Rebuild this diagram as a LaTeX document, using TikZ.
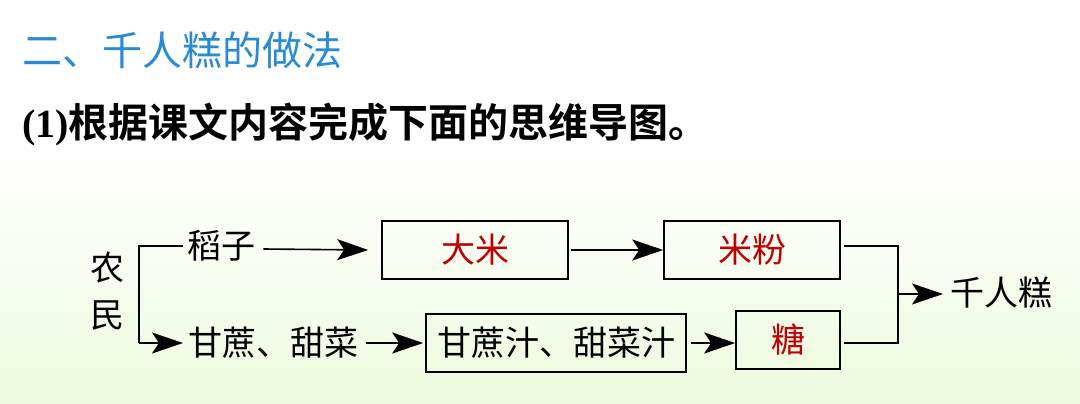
\documentclass[tikz,border=0pt]{standalone}
\usepackage{fontspec}
\setmainfont{Liberation Serif}
\newfontfamily\cjk{Noto Sans CJK SC}
\newfontfamily\cjkb{Noto Sans CJK SC Bold}
\usetikzlibrary{arrows.meta}
\definecolor{titleblue}{HTML}{2A8AD2}
\definecolor{answerred}{HTML}{C00000}
\definecolor{bggreen}{HTML}{EDFADD}
\tikzset{
  lbl/.style={inner sep=0pt, font=\cjk\fontsize{34}{34}\selectfont},
  boxn/.style={draw=black, line width=1.6pt, inner sep=0pt, font=\cjk\fontsize{34}{34}\selectfont},
  ans/.style={text=answerred},
  conn/.style={line width=1.6pt, -{Stealth[length=31pt,width=21pt,inset=7pt]}},
  plain/.style={line width=1.6pt}
}
\begin{document}
\begin{tikzpicture}[x=1pt,y=-1pt]
\useasboundingbox (0,0) rectangle (1080,404);
\fill[white] (0,0) rectangle (1080,150);
\shade[top color=white, bottom color=bggreen] (0,150) rectangle (1080,404);
% titles
\node[anchor=west, inner sep=0pt, text=titleblue, font=\cjk\fontsize{40}{40}\selectfont] (t1) at (22,50) {二、千人糕的做法};
\node[anchor=west, inner sep=0pt, font=\fontsize{40}{40}\selectfont] (t2) at (22,125) {\textbf{(1)}{\cjkb 根据课文内容完成下面的思维导图。}};
% left
\node[lbl] (nong) at (107,268) {农};
\node[lbl] (min) at (107,316) {民};
\coordinate (bt) at (139,246);
\coordinate (bb) at (139,343);
\node[lbl, anchor=west] (daozi) at (187,246) {稻子};
\node[lbl, anchor=west] (ganzhe) at (188,343) {甘蔗、甜菜};
\draw[plain] (daozi.west) ++(-4,0) -- (bt) -- (bb);
\draw[conn] (bb) -- ([xshift=-5pt]ganzhe.west);
% boxes
\node[boxn, ans, minimum width=186pt, minimum height=58pt] (dami) at (475,250) {大米};
\node[boxn, ans, minimum width=176pt, minimum height=58pt] (mifen) at (752,250) {米粉};
\node[boxn, minimum width=260pt, minimum height=58pt] (zhi) at (556,343) {甘蔗汁、甜菜汁};
\node[boxn, ans, minimum width=104pt, minimum height=58pt] (tang) at (788,340) {糖};
\node[lbl, anchor=west] (qrg) at (950,293) {千人糕};
% arrows
\draw[conn] ([xshift=8pt]daozi.east |- 0,249) -- ([xshift=-13pt]dami.west);
\draw[conn] ([xshift=2pt]dami.east) -- (mifen.west);
\draw[conn] ([xshift=8pt]ganzhe.east) -- ([xshift=-2pt]zhi.west);
\draw[conn] ([xshift=4pt]zhi.east) -- (tang.west |- zhi.east);
\coordinate (mt) at (898,246);
\coordinate (mb) at (898,343);
\coordinate (mm) at (898,294);
\draw[plain] ([xshift=3pt]mifen.east |- mt) -- (mt) -- (mb) -- ([xshift=3pt]tang.east |- mb);
\draw[conn] (mm) -- ([xshift=-7pt]qrg.west |- mm);
\end{tikzpicture}
\end{document}
